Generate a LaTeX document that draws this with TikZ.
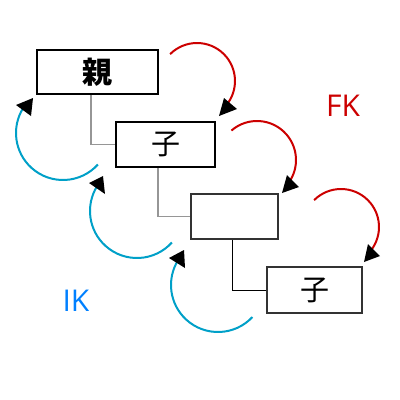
\documentclass[tikz,border=0pt]{standalone}
\usepackage{fontspec}
\newfontfamily\cjkfont{Noto Sans CJK JP}
\newfontfamily\labelfont{Open Sans}
\definecolor{fkred}{RGB}{204,0,0}
\definecolor{ikblue}{RGB}{0,128,255}
\definecolor{arcblue}{RGB}{0,160,200}
\definecolor{linkgray}{RGB}{150,150,150}
\begin{document}
\begin{tikzpicture}[x=1pt,y=1pt,
  box/.style={draw=black, line width=1.5pt, fill=white, inner sep=0pt, minimum height=45pt, font=\cjkfont\fontsize{29}{29}\selectfont},
  link/.style={draw=linkgray, line width=1.2pt},
  fkarc/.style={draw=fkred, line width=2pt},
  ikarc/.style={draw=arcblue, line width=2pt},
  head/.style={fill=black}]
\useasboundingbox (0,0) rectangle (400,-400);

% boxes
\node[box, minimum width=121pt, minimum height=44pt, font=\cjkfont\bfseries\fontsize{30}{30}\selectfont] (b1) at (97.5,-72) {親};
\node[box, minimum width=99pt] (b2) at (165.5,-144.5) {子};
\node[box, draw=black!80, minimum width=87pt] (b3) at (234.5,-216.5) {};
\node[box, draw=black!80, minimum width=95pt, minimum height=46pt] (b4) at (314.5,-290) {子};

% connectors
\draw[link] ([xshift=-6.5pt]b1.south) |- (b2.west);
\draw[link] ([xshift=-7.5pt]b2.south) |- (b3.west);
\draw[draw=black, line width=1pt] ([xshift=-2.5pt]b3.south) |- (b4.west);

% FK arcs (red)
\draw[fkarc] ([shift={(135:38)}]197,-81) arc[start angle=135, end angle=-40, radius=38];
\fill[head] (219,-116) -- (224,-98) -- (237,-109) -- cycle;
\draw[fkarc] ([shift={(131:39)}]257,-160) arc[start angle=131, end angle=-35, radius=39];
\fill[head] (282,-193) -- (287,-175) -- (299,-187) -- cycle;
\draw[fkarc] ([shift={(135:38)}]341,-227) arc[start angle=135, end angle=-37, radius=38];
\fill[head] (364,-262) -- (368,-244) -- (380,-256) -- cycle;

% IK arcs (blue)
\draw[ikarc] ([shift={(-42:47)}]63,-133) arc[start angle=-42, end angle=-212, radius=47];
\fill[head] (33,-98) -- (16,-105) -- (31,-116) -- cycle;
\draw[ikarc] ([shift={(-42:47)}]137,-211) arc[start angle=-42, end angle=-212, radius=47];
\fill[head] (103,-176) -- (89,-183) -- (105,-194) -- cycle;
\draw[ikarc] ([shift={(-43:47)}]218,-285) arc[start angle=-43, end angle=-212, radius=47];
\fill[head] (184,-250) -- (169,-258) -- (185,-268) -- cycle;

% labels
\node[text=fkred, inner sep=0pt, font=\labelfont\fontsize{30}{30}\selectfont] (fk) at (343,-106) {FK};
\node[text=ikblue, inner sep=0pt, font=\labelfont\fontsize{30}{30}\selectfont] (ik) at (76,-301) {IK};
\end{tikzpicture}
\end{document}
